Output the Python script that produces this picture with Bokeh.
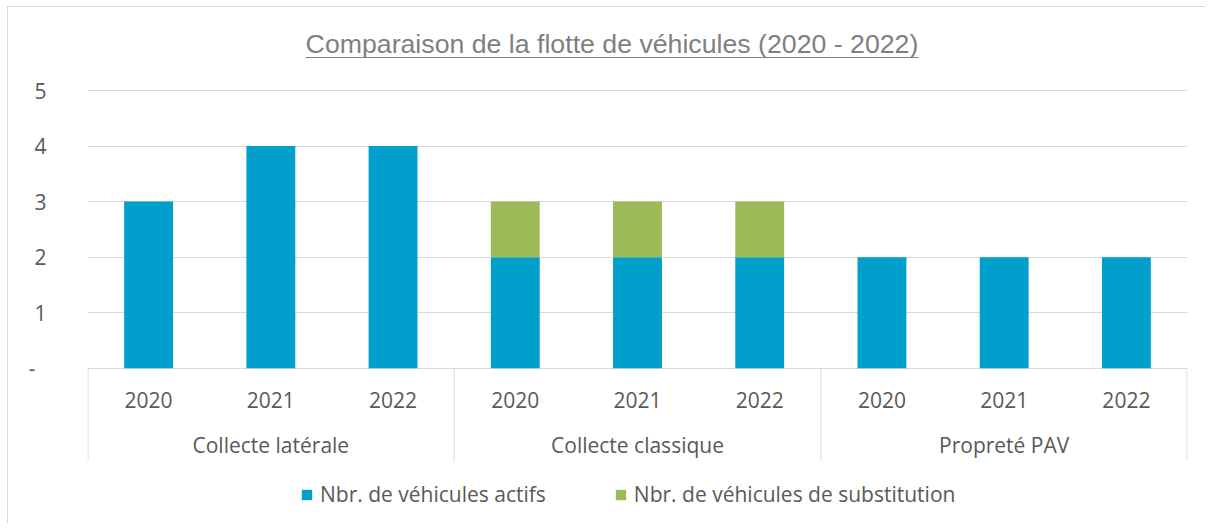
from bokeh.plotting import figure
from bokeh.models import ColumnDataSource, FactorRange, Range1d, FixedTicker, Legend, LegendItem
from bokeh.core.properties import value
from bokeh.embed import file_html
from bokeh.resources import INLINE

# ---- data ----
groups = ["Collecte latérale", "Collecte classique", "Propreté PAV"]
years = ["2020", "2021", "2022"]
actifs = [3, 4, 4, 2, 2, 2, 2, 2, 2]
substitution = [0, 0, 0, 1, 1, 1, 0, 0, 0]
series_names = ["Nbr. de véhicules actifs", "Nbr. de véhicules de substitution"]
y_ticks = [0, 1, 2, 3, 4, 5]
title_text = "Comparaison de la flotte de véhicules (2020 - 2022)"

# ---- styles ----
BLUE = "#009FCC"
GREEN = "#9BBB59"
GRID = "#D9D9D9"
TEXT = "#595959"
TITLE_COL = "#7F7F7F"
FONT = value("Open Sans")

factors = [(g, y) for g in groups for y in years]
src = ColumnDataSource(dict(x=factors, actifs=actifs, substitution=substitution))

W, H = 1198, 517
x_range = FactorRange(*factors, group_padding=0, factor_padding=0, range_padding=0)
y_range = Range1d(-2.815, 6.496)

p = figure(width=W, height=H, x_range=x_range, y_range=y_range,
           output_backend="svg", toolbar_location=None, x_axis_location=None,
           min_border_left=79, min_border_right=19, min_border_top=0, min_border_bottom=0)
p.styles = {"border-left": "1px solid #D9D9D9", "border-top": "1px solid #D9D9D9",
            "margin-left": "7px", "margin-top": "6px"}
p.outline_line_color = None
p.background_fill_color = "white"
p.border_fill_color = "white"

# grid / y axis
p.xgrid.visible = False
p.yaxis.ticker = FixedTicker(ticks=y_ticks)
p.ygrid.grid_line_color = GRID
p.ygrid.grid_line_width = 1
p.yaxis.axis_line_color = None
p.yaxis.major_tick_line_color = None
p.yaxis.minor_tick_line_color = None
p.yaxis.major_tick_out = 0
p.yaxis.major_label_standoff = 41
p.yaxis.major_label_overrides = {0: "-\u00a0\u00a0"}
p.yaxis.major_label_text_font = "Open Sans"
p.yaxis.major_label_text_font_size = "21px"
p.yaxis.major_label_text_color = TEXT

# bars
rs = p.vbar_stack(["actifs", "substitution"], x="x", width=0.4, source=src,
                  color=[BLUE, GREEN], line_color=None)

# category separators (group boundaries)
sep_x = [(groups[0], years[0], -0.496), (groups[1], years[0], -0.5),
         (groups[2], years[0], -0.5), (groups[2], years[-1], 0.496)]
p.segment(x0=sep_x, x1=sep_x, y0=0, y1=-1.675, line_color=GRID, line_width=1)

# year labels
p.text(x=factors, y=[-0.564] * len(factors), text=[f[1] for f in factors],
       text_align="center", text_baseline="middle", text_font=FONT,
       text_font_size="21px", text_color=TEXT)
# group labels
p.text(x=groups, y=[-1.392] * len(groups), text=groups,
       text_align="center", text_baseline="middle", text_font=FONT,
       text_font_size="21px", text_color=TEXT)

# title with underline (centered on the whole chart area)
p.text(x=[(groups[1], years[1], -0.209)], y=[5.847], text=[title_text],
       text_align="center", text_baseline="middle", text_font=value("Liberation Sans"),
       text_font_size="26.7px", text_color=TITLE_COL)
p.segment(x0=[(groups[0], years[1], 0.284)], x1=[(groups[2], years[0], 0.299)],
          y0=[5.595], y1=[5.595], line_color=TITLE_COL, line_width=1)

legend = Legend(items=[LegendItem(label=series_names[i], renderers=[rs[i]]) for i in range(2)],
                orientation="horizontal", location=(213, 16),
                glyph_width=13, glyph_height=13, label_standoff=7, spacing=68,
                padding=0, margin=0, border_line_color=None, background_fill_alpha=0,
                label_text_font="Open Sans", label_text_font_size="21px",
                label_text_color=TEXT, label_height=24)
p.add_layout(legend)

open("out.html", "w").write(file_html(p, INLINE))
